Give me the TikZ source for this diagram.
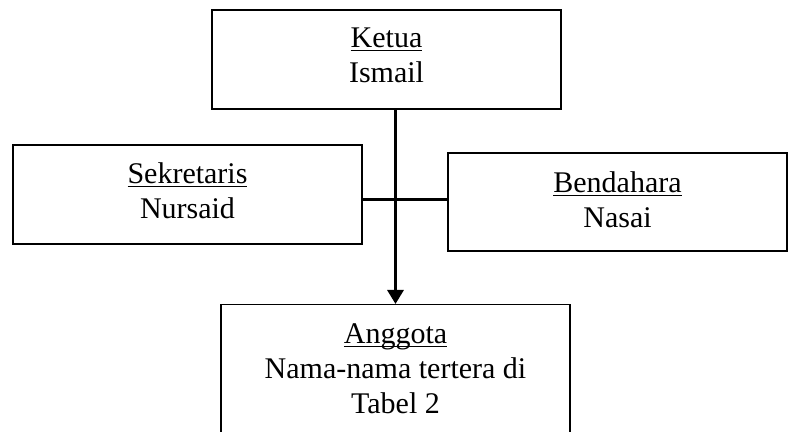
\documentclass[tikz,border=0pt]{standalone}
\usepackage{fontspec}
\setmainfont{Liberation Serif}
\usetikzlibrary{arrows.meta,positioning}
\newcommand{\jabatan}[1]{\underline{\raisebox{0pt}[\height][0pt]{#1}}}

\begin{document}
\begin{tikzpicture}[x=0.5pt, y=-0.5pt,
  font=\fontsize{15pt}{17.5pt}\selectfont,
  box/.style={draw, line width=0.65pt, minimum width=174.5pt, minimum height=49.5pt, inner sep=2pt, text depth=4pt, align=center},
  arr/.style={-{Triangle[length=7pt, width=8pt]}, line width=1.5pt}, garis/.style={line width=1.5pt}]
  \useasboundingbox (0,0) rectangle (788,432);
  \node[box] (ketua) at (386.5,59.5) {\jabatan{Ketua}\\Ismail};
  \node[box] (sekretaris) at (187.5,194.5) {\jabatan{Sekretaris}\\Nursaid};
  \node[box, minimum width=169.5pt, minimum height=49pt, text depth=2pt] (bendahara) at (617.5,202) {\jabatan{Bendahara}\\Nasai};
  \node[box, anchor=north, inner ysep=9.5pt, text depth=8pt] (anggota) at (395.5,304) {\jabatan{Anggota}\\Nama-nama tertera di\\Tabel 2};
  \coordinate (tengah) at (395.5,200);
  \draw[arr] (ketua.south -| anggota.north) -- (anggota.north);
  \draw[garis] (sekretaris.east |- tengah) -- (bendahara.west |- tengah);
\end{tikzpicture}
\end{document}
